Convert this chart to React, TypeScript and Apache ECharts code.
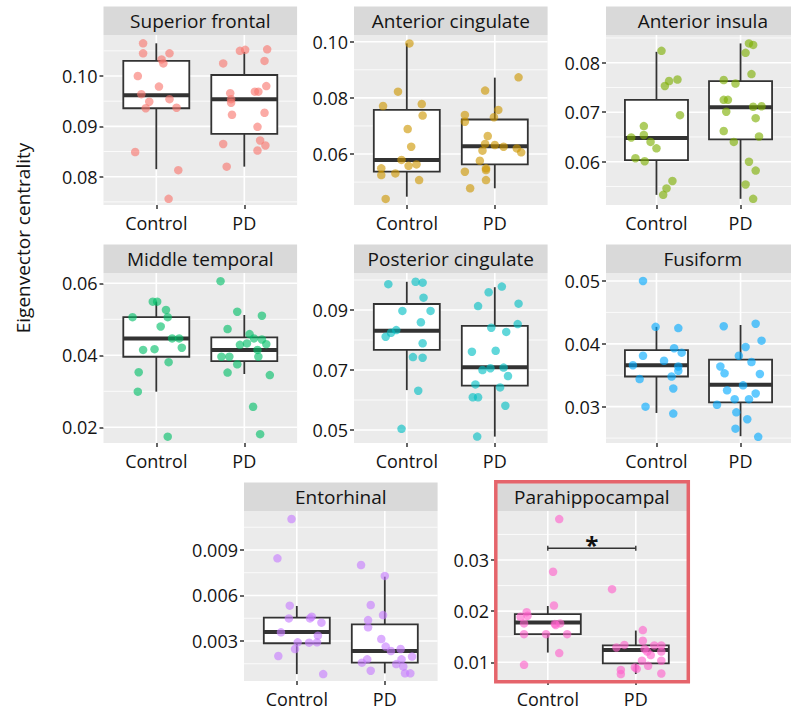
import React, { useEffect, useRef } from 'react';
import * as echarts from 'echarts';

const groups = ['Control', 'PD'];
const regions = ['Superior frontal', 'Anterior cingulate', 'Anterior insula', 'Middle temporal', 'Posterior cingulate', 'Fusiform', 'Entorhinal', 'Parahippocampal'];
const colors = ['#F8766D', '#CD9600', '#7CAE00', '#00BE67', '#00BFC4', '#00A9FF', '#C77CFF', '#FF61CC'];

const yMin = [0.07438, 0.04184, 0.05125, 0.01564, 0.04567, 0.02422, 0.000363, 0.00634];
const yMax = [0.10815, 0.10239, 0.0856, 0.06286, 0.10233, 0.05127, 0.01157, 0.03958];
const majorTicks = [
  [0.08, 0.09, 0.1], [0.06, 0.08, 0.1], [0.06, 0.07, 0.08],
  [0.02, 0.04, 0.06], [0.05, 0.07, 0.09], [0.03, 0.04, 0.05],
  [0.003, 0.006, 0.009], [0.01, 0.02, 0.03],
];
const minorTicks = [
  [0.075, 0.085, 0.095, 0.105], [0.05, 0.07, 0.09], [0.055, 0.065, 0.075, 0.085],
  [0.03, 0.05], [0.06, 0.08, 0.1], [0.025, 0.035, 0.045],
  [0.0015, 0.0045, 0.0075, 0.0105], [0.015, 0.025, 0.035],
];
const tickDecimals = [2, 2, 2, 2, 2, 2, 3, 2];

// box stats: [lower whisker, Q1, median, Q3, upper whisker] for Control, PD
const sfBox = [[0.0815, 0.0936, 0.0962, 0.103, 0.1065], [0.082, 0.0885, 0.0954, 0.1002, 0.1048]];
const acBox = [[0.0448, 0.0537, 0.0579, 0.0757, 0.0994], [0.0478, 0.0563, 0.0628, 0.0723, 0.0872]];
const aiBox = [[0.0533, 0.0603, 0.0648, 0.0725, 0.0822], [0.0525, 0.0645, 0.071, 0.0763, 0.0839]];
const mtBox = [[0.0299, 0.0396, 0.0447, 0.0506, 0.0549], [0.0348, 0.0384, 0.0415, 0.045, 0.0512]];
const pcBox = [[0.0633, 0.0767, 0.0831, 0.092, 0.0994], [0.0478, 0.0648, 0.0709, 0.0847, 0.0976]];
const fuBox = [[0.029, 0.0348, 0.0366, 0.039, 0.0427], [0.0253, 0.0307, 0.0335, 0.0375, 0.043]];
const enBox = [[0.00082, 0.00285, 0.00359, 0.00454, 0.00531], [0.00087, 0.00157, 0.00234, 0.0041, 0.00724]];
const phBox = [[0.0119, 0.0155, 0.0178, 0.0194, 0.021], [0.0077, 0.0098, 0.0124, 0.0133, 0.0162]];

// individual subjects (values) and horizontal jitter (category units)
const sfControl = [0.1065, 0.1045, 0.1045, 0.1033, 0.1025, 0.1, 0.0979, 0.0964, 0.0949, 0.0954, 0.0936, 0.0937, 0.0849, 0.0813, 0.0756];
const sfControlJit = [-0.15, -0.15, 0.15, 0.06, 0.08, -0.21, 0.03, -0.17, -0.08, 0.15, -0.12, 0.23, -0.24, 0.25, 0.14];
const sfPD = [0.1025, 0.105, 0.1052, 0.1053, 0.103, 0.098, 0.0969, 0.0969, 0.0966, 0.0954, 0.0947, 0.0923, 0.0927, 0.0899, 0.0872, 0.0862, 0.0852, 0.0865, 0.082];
const sfPDJit = [-0.24, -0.05, 0.01, 0.26, 0.23, 0.25, 0.12, 0.16, -0.16, -0.15, -0.15, -0.14, 0.23, 0.15, 0.18, 0.24, 0.15, -0.24, -0.2];

const acControl = [0.0994, 0.0822, 0.0771, 0.0778, 0.0737, 0.0689, 0.0626, 0.0579, 0.0558, 0.0563, 0.0549, 0.0525, 0.0531, 0.0507, 0.044];
const acControlJit = [0.03, -0.1, -0.27, 0.17, 0.18, 0.01, 0.05, -0.06, 0.02, 0.11, -0.29, -0.29, -0.13, 0.14, -0.24];
const acPD = [0.0873, 0.0826, 0.0757, 0.0731, 0.0739, 0.0715, 0.0664, 0.0636, 0.0632, 0.0626, 0.062, 0.0606, 0.0612, 0.0576, 0.0549, 0.0543, 0.0537, 0.0507, 0.0478];
const acPDJit = [0.27, -0.11, 0.04, -0.01, -0.34, -0.34, -0.08, -0.11, 0, 0.1, 0.25, 0.3, -0.14, -0.17, -0.1, -0.1, -0.34, -0.1, -0.28];

const aiControl = [0.0824, 0.0766, 0.0763, 0.0753, 0.0694, 0.0672, 0.0649, 0.0654, 0.064, 0.0627, 0.0607, 0.0601, 0.0561, 0.0546, 0.0533];
const aiControlJit = [0.06, 0.25, 0.15, 0.1, 0.28, -0.15, -0.3, -0.15, -0.07, 0, -0.25, -0.14, 0.19, 0.12, 0.08];
const aiPD = [0.0839, 0.0836, 0.082, 0.0777, 0.0765, 0.0758, 0.0725, 0.0725, 0.0701, 0.0711, 0.0712, 0.0688, 0.0662, 0.064, 0.0651, 0.06, 0.0582, 0.0554, 0.0525];
const aiPDJit = [0.1, 0.15, 0.06, 0.13, -0.2, -0.06, -0.2, -0.15, -0.17, 0.15, 0.25, 0.18, -0.2, -0.08, 0.22, 0.1, 0.18, 0.06, 0.15];

const mtControl = [0.0549, 0.0549, 0.0526, 0.0506, 0.0506, 0.048, 0.0447, 0.0447, 0.0421, 0.0415, 0.0417, 0.0381, 0.0353, 0.0299, 0.0174];
const mtControlJit = [-0.04, 0.01, 0.11, 0.13, -0.27, 0.05, 0.18, 0.26, 0.29, -0.15, -0.02, 0.14, -0.2, -0.21, 0.13];
const mtPD = [0.0606, 0.0521, 0.051, 0.0473, 0.0459, 0.0447, 0.0444, 0.0433, 0.0431, 0.0415, 0.0396, 0.0396, 0.0396, 0.0375, 0.0352, 0.0345, 0.0257, 0.0181, 0.0429];
const mtPDJit = [-0.27, -0.08, 0.2, -0.19, 0.06, 0.11, 0.2, 0.03, 0.25, 0.15, -0.26, -0.17, 0.16, -0.08, -0.19, 0.29, 0.1, 0.18, -0.05];

const pcControl = [0.0986, 0.0994, 0.0991, 0.0941, 0.0897, 0.0897, 0.0859, 0.0833, 0.0824, 0.0811, 0.0789, 0.0743, 0.0741, 0.0631, 0.0504];
const pcControlJit = [-0.21, 0.1, 0.18, 0.19, -0.05, 0.27, 0.16, -0.12, -0.18, -0.24, 0.18, 0.07, 0.18, 0.13, -0.06];
const pcPD = [0.0978, 0.0959, 0.0921, 0.0913, 0.0841, 0.0853, 0.0827, 0.0761, 0.0764, 0.07, 0.0706, 0.0708, 0.068, 0.0652, 0.0642, 0.0609, 0.0609, 0.0581, 0.0478];
const pcPDJit = [0.08, -0.07, 0.27, -0.19, -0.04, 0.26, 0.13, -0.26, 0.01, -0.14, -0.05, 0.1, 0.15, -0.22, 0.06, -0.25, -0.19, 0.12, -0.2];

const fuControl = [0.05, 0.0427, 0.0425, 0.0393, 0.0386, 0.0381, 0.0373, 0.0366, 0.0364, 0.0357, 0.0348, 0.0344, 0.0329, 0.03, 0.0289];
const fuControlJit = [-0.16, -0.01, 0.26, 0.21, 0.3, -0.16, 0.09, -0.28, 0.26, 0.26, 0.18, -0.2, 0.2, -0.13, 0.2];
const fuPD = [0.0428, 0.0432, 0.0405, 0.0395, 0.0381, 0.0371, 0.0364, 0.0353, 0.0352, 0.0334, 0.0326, 0.0321, 0.0312, 0.0312, 0.0303, 0.0291, 0.028, 0.0265, 0.0252];
const fuPDJit = [-0.2, 0.18, 0.25, 0.06, -0.02, 0.13, -0.24, -0.19, 0.23, 0.03, -0.16, 0.18, -0.07, 0.1, -0.28, -0.05, 0.08, -0.06, 0.21];

const enControl = [0.01104, 0.00845, 0.00533, 0.00449, 0.00449, 0.0046, 0.00421, 0.00357, 0.00335, 0.00291, 0.00289, 0.00291, 0.00247, 0.00201, 0.00082];
const enControlJit = [-0.06, -0.22, -0.08, -0.09, 0.15, 0.17, 0.28, -0.18, 0.24, 0.01, 0.14, 0.23, -0.02, -0.21, 0.3];
const enPD = [0.00801, 0.00729, 0.00537, 0.00471, 0.00438, 0.0039, 0.00313, 0.00263, 0.00234, 0.00247, 0.00179, 0.00197, 0.00179, 0.00157, 0.00148, 0.00131, 0.00104, 0.00087, 0.00087];
const enPDJit = [-0.27, 0, -0.16, -0.02, -0.19, -0.19, -0.04, 0.01, 0.07, 0.18, 0.19, 0.31, -0.2, -0.26, 0.13, 0.21, -0.16, 0.23, 0.29];

const phControl = [0.038, 0.0277, 0.0211, 0.0198, 0.0191, 0.0189, 0.0176, 0.0176, 0.0173, 0.0155, 0.0155, 0.0155, 0.0118, 0.0095, 0.0175];
const phControlJit = [0.13, 0.06, 0.07, -0.24, -0.23, -0.31, -0.27, 0.14, 0.09, -0.27, -0.02, 0.22, 0.13, -0.27, 0.08];
const phPD = [0.0243, 0.0163, 0.0142, 0.0134, 0.0129, 0.0126, 0.0133, 0.0133, 0.0121, 0.0121, 0.0114, 0.0103, 0.0103, 0.0093, 0.009, 0.0085, 0.0077, 0.0078, 0.0087];
const phPDJit = [-0.27, 0.08, 0.08, -0.13, -0.22, 0.1, 0.21, 0.29, 0.13, 0.29, 0.17, 0.07, 0.29, 0.14, -0.01, -0.17, -0.17, 0.29, 0.01];

// significance annotation in Parahippocampal panel
const sigPanel = 7;
const sigPair = [1, 2];
const sigY = 0.0323;
const sigLabel = '*';

const boxes = [sfBox, acBox, aiBox, mtBox, pcBox, fuBox, enBox, phBox];
const controls = [sfControl, acControl, aiControl, mtControl, pcControl, fuControl, enControl, phControl];
const controlJits = [sfControlJit, acControlJit, aiControlJit, mtControlJit, pcControlJit, fuControlJit, enControlJit, phControlJit];
const pds = [sfPD, acPD, aiPD, mtPD, pcPD, fuPD, enPD, phPD];
const pdJits = [sfPDJit, acPDJit, aiPDJit, mtPDJit, pcPDJit, fuPDJit, enPDJit, phPDJit];

// layout
const FONT = '"Open Sans", "Noto Sans", sans-serif';
const PW = 193.6;
const PH = 170;
const STRIP_H = 28.5;
const panelLeft = [103.5, 354, 606, 103.5, 354, 606, 244, 495];
const panelTop = [35, 35, 35, 273, 273, 273, 511, 511];
const BOX_HALF = 0.375;
const INK = '#333333';
const TEXT = '#141414';

export default function App() {
  const ref = useRef<HTMLDivElement>(null);
  useEffect(() => {
    document.body.style.margin = '0';
    const chart = echarts.init(ref.current!, null, { renderer: 'svg' });

    const grid: any[] = [];
    const xAxis: any[] = [];
    const yAxis: any[] = [];
    const series: any[] = [];
    const graphic: any[] = [];

    const boxRender = (params: any, api: any) => {
      const x = api.value(0);
      const lo = api.value(1), q1 = api.value(2), med = api.value(3), q3 = api.value(4), hi = api.value(5);
      const pLo = api.coord([x, lo]);
      const pHi = api.coord([x, hi]);
      const pQ1 = api.coord([x - BOX_HALF, q1]);
      const pQ3 = api.coord([x + BOX_HALF, q3]);
      const pMl = api.coord([x - BOX_HALF, med]);
      const pMr = api.coord([x + BOX_HALF, med]);
      const st = { stroke: INK, lineWidth: 1.8, fill: null };
      return {
        type: 'group',
        children: [
          { type: 'line', shape: { x1: pHi[0], y1: pHi[1], x2: pHi[0], y2: pQ3[1] }, style: st },
          { type: 'line', shape: { x1: pLo[0], y1: pLo[1], x2: pLo[0], y2: pQ1[1] }, style: st },
          { type: 'rect', shape: { x: pQ1[0], y: pQ3[1], width: pQ3[0] - pQ1[0], height: pQ1[1] - pQ3[1] }, style: { fill: '#ffffff', stroke: INK, lineWidth: 1.8 } },
          { type: 'line', shape: { x1: pMl[0], y1: pMl[1], x2: pMr[0], y2: pMr[1] }, style: { stroke: INK, lineWidth: 4 } },
        ],
      };
    };

    const gridRender = (params: any, api: any) => {
      const cs = params.coordSys;
      const kind = api.value(2);
      const p = api.coord([api.value(0), api.value(1)]);
      if (kind === 2) {
        return { type: 'line', shape: { x1: p[0], y1: cs.y, x2: p[0], y2: cs.y + cs.height }, style: { stroke: '#ffffff', lineWidth: 1.6 } };
      }
      return { type: 'line', shape: { x1: cs.x, y1: p[1], x2: cs.x + cs.width, y2: p[1] }, style: { stroke: '#ffffff', lineWidth: kind === 0 ? 1.6 : 0.8 } };
    };

    regions.forEach((name, i) => {
      grid.push({ left: panelLeft[i], top: panelTop[i], width: PW, height: PH, show: true, backgroundColor: '#EBEBEB', borderWidth: 0 });
      xAxis.push({
        gridIndex: i, type: 'value', min: 0.4, max: 2.6,
        axisLine: { show: false }, splitLine: { show: false },
        axisTick: { show: true, customValues: [1, 2], length: 4, lineStyle: { color: INK, width: 1.5 } },
        axisLabel: {
          customValues: [1, 2], margin: 9, fontSize: 18, color: TEXT, fontFamily: FONT,
          formatter: (v: number) => (Math.abs(v - Math.round(v)) < 1e-6 && v >= 1 && v <= 2 ? groups[Math.round(v) - 1] : ''),
        },
      });
      yAxis.push({
        gridIndex: i, type: 'value', min: yMin[i], max: yMax[i],
        axisLine: { show: false }, splitLine: { show: false },
        axisTick: { show: true, customValues: majorTicks[i], length: 4, lineStyle: { color: INK, width: 1.5 } },
        axisLabel: {
          customValues: majorTicks[i], margin: 6, fontSize: 18, color: TEXT, fontFamily: FONT,
          formatter: (v: number) => v.toFixed(tickDecimals[i]),
        },
      });

      const gl: number[][] = [];
      majorTicks[i].forEach((v) => gl.push([1, v, 0]));
      minorTicks[i].forEach((v) => gl.push([1, v, 1]));
      [1, 2].forEach((v) => gl.push([v, yMin[i], 2]));
      series.push({
        type: 'custom', xAxisIndex: i, yAxisIndex: i, z: 1, silent: true, clip: true,
        renderItem: gridRender, encode: { x: 0, y: 1 }, data: gl,
      });

      series.push({
        type: 'custom', xAxisIndex: i, yAxisIndex: i, z: 2, silent: true,
        renderItem: boxRender, encode: { x: 0, y: [1, 2, 3, 4, 5] },
        data: boxes[i].map((b, g) => [g + 1, ...b]),
      });

      const pts: number[][] = [];
      controls[i].forEach((v, k) => pts.push([1 + controlJits[i][k], v]));
      pds[i].forEach((v, k) => pts.push([2 + pdJits[i][k], v]));
      series.push({
        type: 'scatter', xAxisIndex: i, yAxisIndex: i, z: 3, silent: true,
        symbolSize: 8.5, itemStyle: { color: colors[i], opacity: 0.62 },
        data: pts,
      });

      graphic.push({
        type: 'rect', silent: true,
        shape: { x: panelLeft[i], y: panelTop[i] - STRIP_H, width: PW, height: STRIP_H },
        style: { fill: '#D9D9D9' },
      });
      graphic.push({
        type: 'text', silent: true,
        x: panelLeft[i] + PW / 2, y: panelTop[i] - STRIP_H / 2,
        style: { text: name, fontSize: 19, fontFamily: FONT, fill: TEXT, align: 'center', verticalAlign: 'middle' },
      });
    });

    series.push({
      type: 'custom', xAxisIndex: sigPanel, yAxisIndex: sigPanel, z: 4, silent: true, clip: false,
      encode: { x: [0, 1], y: 2 },
      data: [[sigPair[0], sigPair[1], sigY]],
      renderItem: (params: any, api: any) => {
        const a = api.coord([api.value(0), api.value(2)]);
        const b = api.coord([api.value(1), api.value(2)]);
        const st = { stroke: INK, lineWidth: 1.4 };
        return {
          type: 'group',
          children: [
            { type: 'line', shape: { x1: a[0], y1: a[1], x2: b[0], y2: b[1] }, style: st },
            { type: 'line', shape: { x1: a[0], y1: a[1] - 2.5, x2: a[0], y2: a[1] + 2.5 }, style: st },
            { type: 'line', shape: { x1: b[0], y1: b[1] - 2.5, x2: b[0], y2: b[1] + 2.5 }, style: st },
            {
              type: 'text', x: (a[0] + b[0]) / 2, y: a[1] - 4,
              style: { text: sigLabel, fontSize: 24, fontWeight: 'bold', fontFamily: FONT, fill: '#111', align: 'center', verticalAlign: 'middle' },
            },
          ],
        };
      },
    });

    graphic.push({
      type: 'text', silent: true, x: 23, y: 238, rotation: Math.PI / 2,
      style: { text: 'Eigenvector centrality', fontSize: 19, fontFamily: FONT, fill: TEXT, align: 'center', verticalAlign: 'middle' },
    });
    graphic.push({
      type: 'rect', silent: true, z: 100,
      shape: { x: 495.8, y: 481.7, width: 192.5, height: 200 },
      style: { fill: null, stroke: '#E5646B', lineWidth: 3.5 },
    });

    chart.setOption({
      animation: false,
      backgroundColor: '#ffffff',
      grid, xAxis, yAxis, series, graphic,
    });
    return () => chart.dispose();
  }, []);
  return <div ref={ref} style={{ width: 791, height: 711 }} />;
}
